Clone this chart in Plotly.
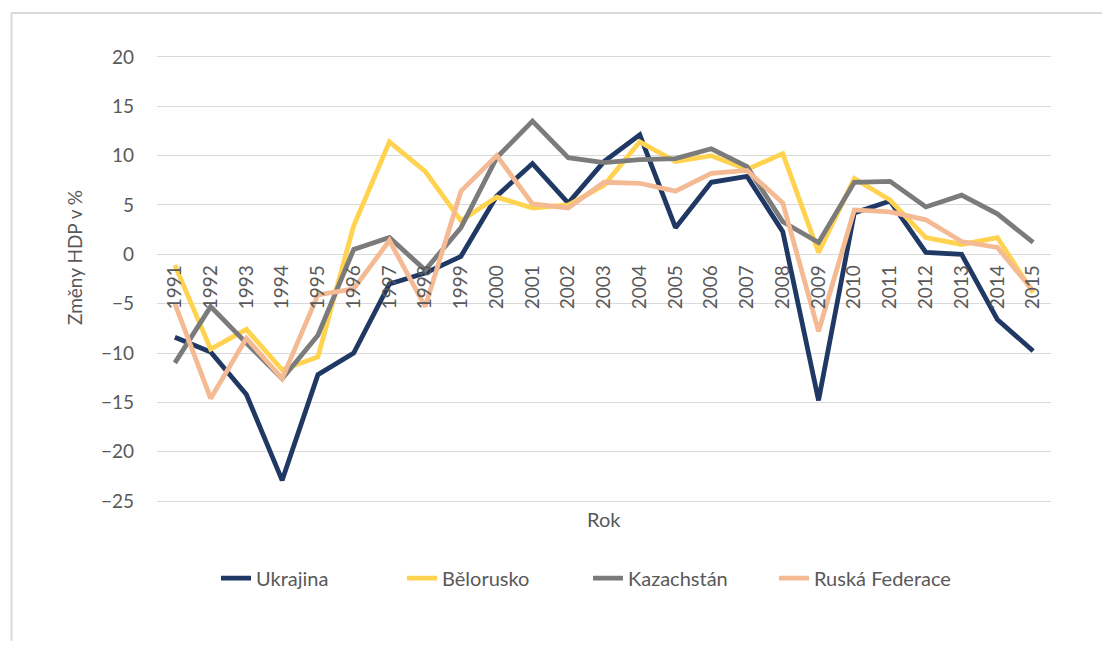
import plotly.graph_objects as go

years = [str(y) for y in range(1991, 2016)]
ukrajina = [-8.4, -9.9, -14.2, -22.9, -12.2, -10.0, -3.0, -1.9, -0.2, 5.9, 9.2, 5.2, 9.4, 12.1,
            2.7, 7.3, 7.9, 2.3, -14.8, 4.2, 5.4, 0.2, 0.0, -6.6, -9.8]
belorusko = [-1.1, -9.6, -7.6, -11.7, -10.4, 2.9, 11.4, 8.4, 3.4, 5.8, 4.7, 5.0, 7.0, 11.4,
             9.4, 10.0, 8.6, 10.2, 0.2, 7.7, 5.5, 1.7, 1.0, 1.7, -3.9]
kazachstan = [-11.0, -5.3, -9.0, -12.6, -8.2, 0.5, 1.7, -1.6, 2.7, 9.8, 13.5, 9.8, 9.3, 9.6,
              9.7, 10.7, 8.9, 3.3, 1.2, 7.3, 7.4, 4.8, 6.0, 4.1, 1.2]
rusko = [-5.0, -14.6, -8.5, -12.6, -4.1, -3.5, 1.4, -5.3, 6.4, 10.0, 5.1, 4.7, 7.3, 7.2,
         6.4, 8.2, 8.5, 5.2, -7.8, 4.5, 4.3, 3.5, 1.3, 0.7, -3.7]

series_names = ["Ukrajina", "Bělorusko", "Kazachstán", "Ruská Federace"]
series_values = [ukrajina, belorusko, kazachstan, rusko]
series_colors = ["#1F3864", "#FFD34F", "#7B7B7B", "#F4BA94"]

y_ticks = [20, 15, 10, 5, 0, -5, -10, -15, -20, -25]

# page is rendered with an 8px body margin, so work in page coordinates and shift
OFF = 8
PAGE_W, PAGE_H = 1110, 649
W, H = PAGE_W - 2 * OFF, PAGE_H - 2 * OFF
ymin, ymax = -25.3, 20.3
unit = 9.867  # px per y unit
plot_left, plot_right = 157, 1051
plot_top = 57 - (ymax - 20) * unit
plot_bottom = 501 + (-25 - ymin) * unit
L = plot_left - OFF
T = plot_top - OFF
R = W - (plot_right - OFF)
B = H - (plot_bottom - OFF)
pw, ph = plot_right - plot_left, plot_bottom - plot_top


def px(x):
    return (x - plot_left) / pw


def py(y):
    return (plot_bottom - y) / ph


font = "Lato, 'Open Sans', sans-serif"
txt = "#595959"

fig = go.Figure()
for name, vals, col in zip(series_names, series_values, series_colors):
    fig.add_trace(go.Scatter(x=years, y=vals, name=name, mode="lines",
                             line=dict(color=col, width=4.8), hoverinfo="x+y+name"))

fig.update_layout(
    width=W, height=H,
    margin=dict(l=L, r=R, t=T, b=B, pad=0),
    paper_bgcolor="white", plot_bgcolor="white",
    font=dict(family=font, color=txt, size=19),
    showlegend=True,
    legend=dict(orientation="h", x=px(216), xanchor="left", y=py(578), yanchor="middle",
                font=dict(size=20, color=txt), entrywidth=141, entrywidthmode="pixels",
                bgcolor="rgba(0,0,0,0)"),
    xaxis=dict(type="category", range=[-0.5, 24.5], anchor="free",
               position=(0 - ymin) / (ymax - ymin), tickangle=-90,
               showgrid=False, showline=False, zeroline=False, ticks="",
               ticklabelstandoff=6, tickfont=dict(size=19, color=txt)),
    yaxis=dict(range=[ymin, ymax], tickvals=y_ticks, showgrid=True, gridcolor="#D9D9D9",
               gridwidth=1.3, zeroline=False, showline=False, ticks="",
               ticklabelstandoff=22, tickfont=dict(size=19, color=txt)),
    annotations=[
        dict(text="Rok", x=px(604), y=py(519), xref="paper", yref="paper", showarrow=False,
             xanchor="center", yanchor="middle", font=dict(size=20, color=txt)),
        dict(text="Změny HDP v %", x=px(75), y=py(258), xref="paper", yref="paper",
             showarrow=False, textangle=-90, xanchor="center", yanchor="middle",
             font=dict(size=19, color=txt)),
    ],
    shapes=[
        dict(type="line", xref="paper", yref="paper", x0=px(11.5), x1=px(11.5),
             y0=py(13), y1=py(PAGE_H), line=dict(color="#D9D9D9", width=2)),
        dict(type="line", xref="paper", yref="paper", x0=px(11), x1=px(PAGE_W),
             y0=py(13), y1=py(13), line=dict(color="#D9D9D9", width=2)),
    ],
)

fig.write_html("out.html")
